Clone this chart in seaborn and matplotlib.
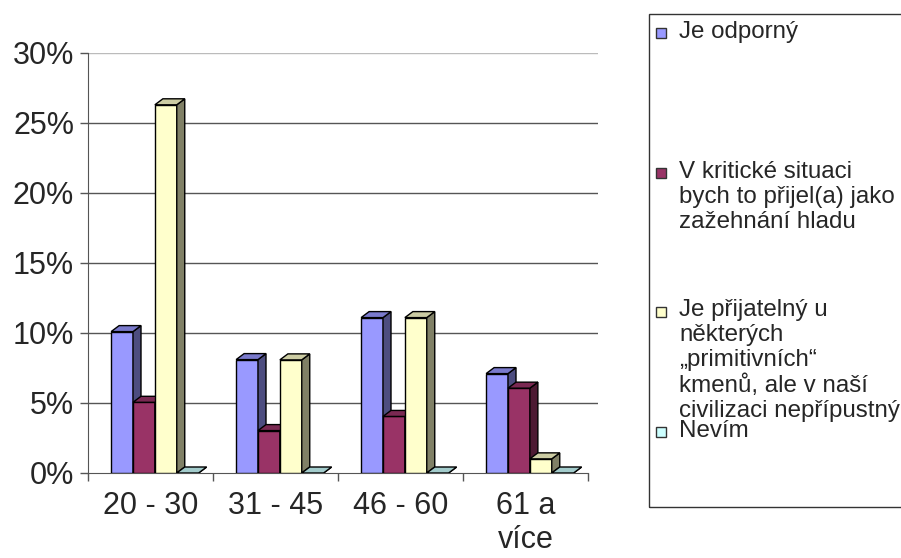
import pandas as pd
import seaborn as sns
import matplotlib.pyplot as plt
from matplotlib.patches import Polygon, Rectangle
from matplotlib.ticker import PercentFormatter, FixedLocator
import matplotlib.colors as mcolors

# data (share of respondents, %)
vek = ['20 - 30', '31 - 45', '46 - 60', '61 a\nvíce']
odpovedi = ['Je odporný',
            'V kritické situaci\nbych to přijel(a) jako\nzažehnání hladu',
            'Je přijatelný u\nněkterých\n„primitivních“\nkmenů, ale v naší\ncivilizaci nepřípustný',
            'Nevím']
je_odporny = [10.1, 8.1, 11.1, 7.1]
v_kriticke = [5.05, 3.03, 4.04, 6.06]
je_prijatelny = [26.3, 8.08, 11.1, 1.01]
nevim = [0, 0, 0, 0]
barvy = ['#9999FF', '#993366', '#FFFFCC', '#CCFFFF']

rows = []
for odp, vals in zip(odpovedi, [je_odporny, v_kriticke, je_prijatelny, nevim]):
    for v, val in zip(vek, vals):
        rows.append({'vek': v, 'odpoved': odp, 'podil': val})
df = pd.DataFrame(rows)

sns.set_style('white')
plt.rcParams['font.family'] = ['Liberation Sans', 'DejaVu Sans']

fig = plt.figure(figsize=(9.01, 5.58), dpi=100)
ax = fig.add_axes([88 / 901, 1 - 473 / 558, (598 - 88) / 901, (473 - 53) / 558])

sns.barplot(data=df, x='vek', y='podil', hue='odpoved', order=vek, hue_order=odpovedi,
            palette=barvy, width=0.7, gap=0, edgecolor='black', linewidth=1,
            legend=False, ax=ax, saturation=1)

ax.set_xlim(-0.5, 3.58)
ax.set_ylim(0, 30)

# fake 3D depth (side and top faces), derived from each bar patch
dx = 8 / 125
dy = 6 / 14
for i, cont in enumerate(ax.containers):
    base = mcolors.to_rgb(barvy[i])
    side_c = tuple(c * 0.5 for c in base)
    top_c = tuple(c * 0.8 for c in base)
    for p in cont.patches:
        p.set_x(p.get_x() + 0.035)
        p.set_zorder(10 + 2 * i)
        x0, w, h = p.get_x(), p.get_width(), p.get_height()
        side = Polygon([(x0 + w, 0), (x0 + w + dx, dy), (x0 + w + dx, h + dy), (x0 + w, h)],
                       closed=True, facecolor=side_c, edgecolor='black', lw=1,
                       zorder=11 + 2 * i)
        top = Polygon([(x0, h), (x0 + dx, h + dy), (x0 + w + dx, h + dy), (x0 + w, h)],
                      closed=True, facecolor=top_c, edgecolor='black', lw=1,
                      zorder=11 + 2 * i)
        ax.add_patch(side)
        ax.add_patch(top)

# gridlines on the back wall
for g in range(5, 31, 5):
    ax.axhline(g, color='#555555' if g < 30 else '#bbbbbb', lw=1, zorder=1)

ax.yaxis.set_major_formatter(PercentFormatter(xmax=100, decimals=0))
ax.set_yticks(range(0, 31, 5))
ax.tick_params(axis='y', labelsize=22, length=6, width=1, direction='out',
               color='#555555', pad=4, left=True)
ax.tick_params(axis='x', which='major', labelsize=22, length=0, pad=13)
ax.xaxis.set_minor_locator(FixedLocator([-0.5, 0.5, 1.5, 2.5, 3.5]))
ax.tick_params(axis='x', which='minor', length=6, width=1, direction='out',
               color='#555555', bottom=True)
for lab in ax.get_xticklabels():
    lab.set_linespacing(1.15)

ax.set_xlabel('')
ax.set_ylabel('')
for s in ['top', 'right']:
    ax.spines[s].set_visible(False)
ax.spines['left'].set_color('#555555')
ax.spines['bottom'].set_color('#555555')
ax.spines['bottom'].set_bounds(-0.5, 3.5)

# legend drawn by hand to match the spread-out layout
fig.patches.append(Rectangle((649 / 901, 1 - 507 / 558), 300 / 901, (507 - 14) / 558,
                             transform=fig.transFigure, facecolor='none',
                             edgecolor='#333333', lw=1))
baselines = [37.7, 178, 316.7, 436.7]
line_px = 25
for odp, c, yb in zip(odpovedi, barvy, baselines):
    fig.patches.append(Rectangle((656 / 901, 1 - yb / 558), 10 / 901, 10 / 558,
                                 transform=fig.transFigure, facecolor=c,
                                 edgecolor='#333333', lw=1))
    n = odp.count('\n')
    y_last = yb + n * line_px
    fig.text(679 / 901, 1 - y_last / 558, odp, fontsize=17.4, va='baseline', ha='left',
             linespacing=1.17)

fig.savefig('out.png', dpi=100)
